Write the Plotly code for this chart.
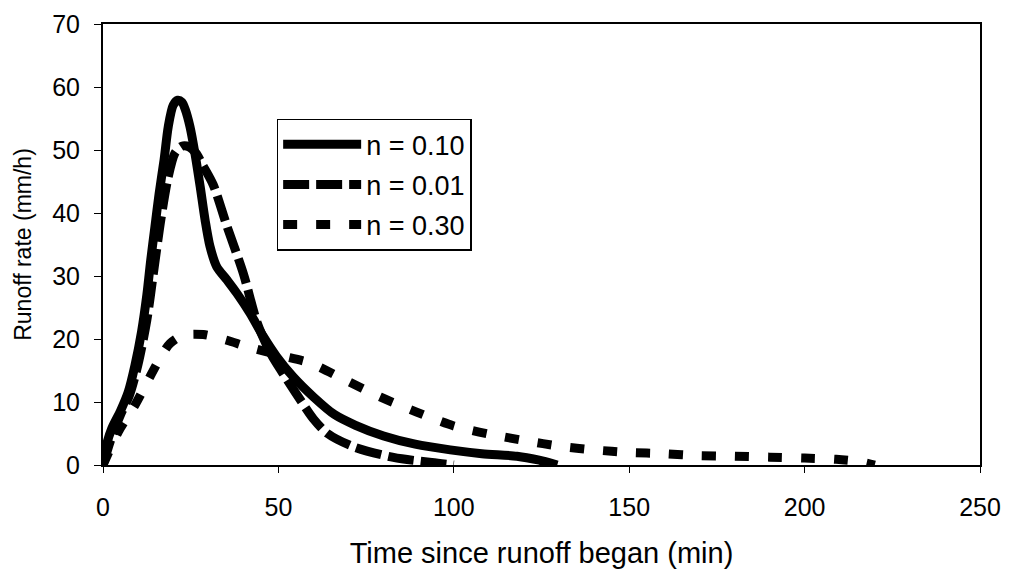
import plotly.graph_objects as go

# n = 0.10 (solid)
t_010 = [0, 1, 2.5, 5, 7.2, 9.1, 11, 12.5, 13.6, 14.8, 16, 17.4, 18.6, 20, 21.3, 22.5,
         23.4, 24.8, 26.2, 27.7, 29.1, 30.5, 32.4, 35.3, 38.1, 41.9, 45.7, 49.5, 54.2,
         60, 66, 72, 80, 89, 99, 108, 118, 124, 129.5]
r_010 = [0, 3.2, 5.8, 8.6, 11.6, 15.8, 21.2, 27.0, 32.5, 37.8, 43.1, 48.4, 53.7, 57.1, 57.9, 57.6,
         56.5, 53.7, 49.5, 44.2, 38.9, 34.7, 31.5, 29.4, 27.3, 24.1, 20.4, 17.2, 14,
         10.8, 8, 6.3, 4.6, 3.3, 2.4, 1.8, 1.4, 0.8, 0]

# n = 0.01 (long dash)
t_001 = [0, 2.5, 5, 7.5, 10, 12.5, 14.5, 16.5, 18.5, 20.5, 22.5, 24.5, 26.5, 28.5, 31.4,
         35.4, 40, 44, 48, 51, 55, 60, 64, 71.4, 82.8, 93.7, 100]
r_001 = [0, 4.5, 8, 11, 16, 23, 31, 39, 45.5, 49.5, 50.6, 50.5, 49.5, 47.5, 44.5,
         37.8, 30.4, 22.5, 17.5, 14.8, 11.4, 7.3, 5, 2.9, 1.2, 0.4, 0]

# n = 0.30 (short dash)
t_030 = [0, 4.4, 9.1, 12.9, 16.2, 19.1, 22.9, 28.6, 35.3, 41, 50.5, 59, 69, 79, 89.4,
         100, 110, 121, 130, 140, 150, 160, 170, 180, 190, 200, 209, 216, 220]
r_030 = [0, 5.3, 9.5, 13.5, 16.9, 19.3, 20.6, 20.7, 19.8, 18.8, 17.4, 16.2, 13.5, 10.8, 8.4,
         6.2, 4.9, 3.8, 3.0, 2.4, 2.0, 1.8, 1.5, 1.4, 1.25, 1.1, 0.9, 0.5, 0]

series_names = ["n = 0.10", "n = 0.01", "n = 0.30"]
x_ticks = [0, 50, 100, 150, 200, 250]
y_ticks = [0, 10, 20, 30, 40, 50, 60, 70]

FONT = "Liberation Sans, Arial, sans-serif"

fig = go.Figure()
fig.add_trace(go.Scatter(x=t_010, y=r_010, mode="lines", name=series_names[0],
                         legendgroup="a",
                         line=dict(color="black", width=9, shape="spline", smoothing=0.8)))
fig.add_trace(go.Scatter(x=t_001, y=r_001, mode="lines", name=series_names[1],
                         legendgroup="b",
                         line=dict(color="black", width=9, dash="26px,7px", shape="spline", smoothing=0.8)))
fig.add_trace(go.Scatter(x=t_030, y=r_030, mode="lines", name=series_names[2],
                         legendgroup="c",
                         line=dict(color="black", width=9, dash="14px,19px", shape="spline", smoothing=0.8)))

fig.update_layout(
    width=1004, height=569,
    margin=dict(l=95, r=32, t=16, b=112, autoexpand=False),
    paper_bgcolor="white", plot_bgcolor="white",
    font=dict(family=FONT, color="black"),
    legend=dict(x=0.198, y=0.785, xanchor="left", yanchor="top",
                bgcolor="white", bordercolor="black", borderwidth=1.5,
                font=dict(size=27, family=FONT), itemwidth=78, tracegroupgap=2),
)
fig.update_xaxes(range=[0, 250], tickvals=x_ticks, ticks="outside", ticklen=6, tickwidth=1,
                 tickcolor="black", showline=True, linecolor="black", linewidth=2, mirror=True,
                 showgrid=False, zeroline=False, tickfont=dict(size=25, family=FONT),
                 ticklabelstandoff=13, automargin=False,
                 title=dict(text="Time since runoff began (min)", font=dict(size=29, family=FONT),
                            standoff=23))
fig.update_yaxes(range=[0, 70], tickvals=y_ticks, ticks="outside", ticklen=7, tickwidth=1,
                 tickcolor="black", showline=True, linecolor="black", linewidth=2, mirror=True,
                 showgrid=False, zeroline=False, tickfont=dict(size=25, family=FONT),
                 ticklabelstandoff=9, automargin=False,
                 title=dict(text="Runoff rate (mm/h)", font=dict(size=23, family=FONT),
                            standoff=14))

fig.write_html("out.html")
